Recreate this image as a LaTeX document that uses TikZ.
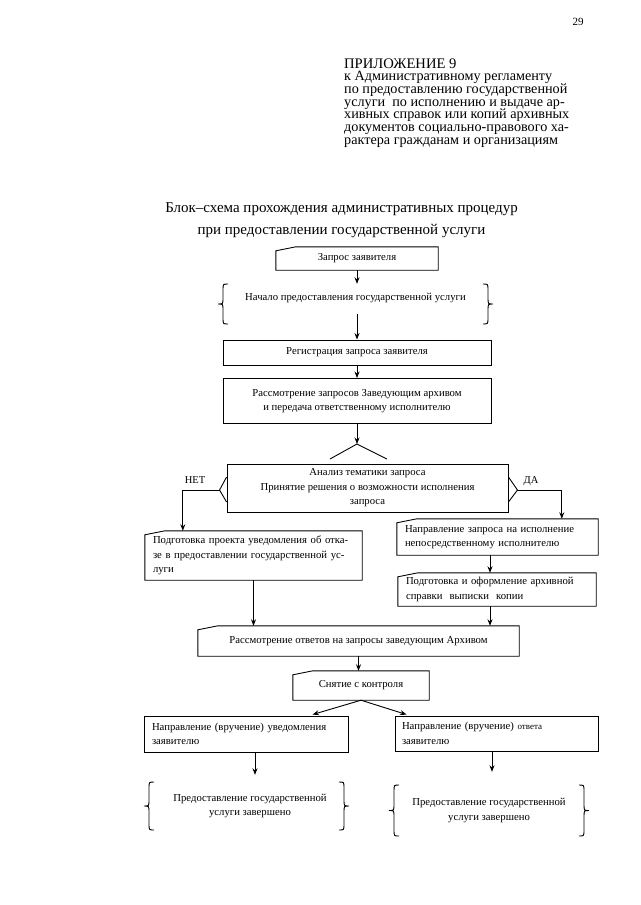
\documentclass[tikz,border=0pt]{standalone}
\usepackage{fontspec}
\setmainfont{Liberation Serif}
\usetikzlibrary{arrows.meta,calc}
\tikzset{
  ln/.style={line width=0.9pt, black},
  arr/.style={ln, -{Stealth[length=6.5pt,width=5pt]}},
  bx/.style={font=\fontsize{10.7}{14.5}\selectfont, inner xsep=8pt, inner ysep=1pt, align=center},
  plainbox/.style={bx, draw, ln},
  cardbox/.style={bx},
  lefttext/.style={align=left, text width=#1},
  apx/.style={anchor=base west, inner sep=0pt, font=\fontsize{14.2}{15}\selectfont},
  ttl/.style={anchor=base, inner sep=0pt, font=\fontsize{15}{18}\selectfont},
  lbl/.style={font=\fontsize{10.5}{12}\selectfont, inner sep=0pt},
  grp/.style={bx},
}
\newcommand{\cardout}[1]{\draw[ln] ($(#1.north west)+(0,4)$) -- ($(#1.north west)+(20,0)$) -- (#1.north east) -- (#1.south east) -- (#1.south west) -- cycle;}
\newcommand{\BrL}[3]{\pgfmathsetmacro{\brm}{(#2+#3)/2}\draw[ln] (#1+6,#2) .. controls (#1+1,#2) .. (#1+1,#2+6) -- (#1+1,\brm-6) .. controls (#1+1,\brm) .. (#1-4,\brm) .. controls (#1+1,\brm) .. (#1+1,\brm+6) -- (#1+1,#3-6) .. controls (#1+1,#3) .. (#1+6,#3);}
\newcommand{\BrR}[3]{\pgfmathsetmacro{\brm}{(#2+#3)/2}\draw[ln] (#1-6,#2) .. controls (#1-1,#2) .. (#1-1,#2+6) -- (#1-1,\brm-6) .. controls (#1-1,\brm) .. (#1+4,\brm) .. controls (#1-1,\brm) .. (#1-1,\brm+6) -- (#1-1,#3-6) .. controls (#1-1,#3) .. (#1-6,#3);}
\begin{document}
\begin{tikzpicture}[x=1pt,y=-1pt]
\useasboundingbox (0,0) rectangle (640,905);
\fill[white] (0,0) rectangle (640,905);

\node[font=\fontsize{11}{13}\selectfont] (pg) at (578,22) {29};

\node[apx, font=\fontsize{14.6}{16}\selectfont] (a1) at (344,68) {ПРИЛОЖЕНИЕ 9};
\node[apx] (a2) at (344,80.7) {к Административному регламенту};
\node[apx] (a3) at (344,93.4) {по предоставлению государственной};
\node[apx] (a4) at (344,106) {услуги\ \ по исполнению и выдаче ар-};
\node[apx] (a5) at (344,118.7) {хивных справок или копий архивных};
\node[apx] (a6) at (344,131.4) {документов социально-правового ха-};
\node[apx] (a7) at (344,144) {рактера гражданам и организациям};

\node[ttl] (t1) at (341.5,212) {Блок–схема прохождения административных процедур};
\node[ttl] (t2) at (341.5,234) {при предоставлении государственной услуги};

\node[cardbox, minimum width=162, minimum height=23] (zap) at (357,258.5) {Запрос заявителя};
\cardout{zap}

\node[grp, minimum width=267, minimum height=40, text height=8pt, text depth=15pt, inner ysep=0pt] (nach) at (355.5,304) {Начало предоставления государственной услуги};
\BrL{222}{284}{324}
\BrR{489}{284}{324}
\coordinate (nachout) at (357,314);

\node[plainbox, minimum width=268, minimum height=25] (reg) at (357,352.5) {Регистрация запроса заявителя};
\node[plainbox, minimum width=268, minimum height=45] (ras) at (357,401) {Рассмотрение запросов Заведующим архивом\\и передача ответственному исполнителю};

\coordinate (roof) at (357,444);
\coordinate (roofL) at (330,459);
\coordinate (roofR) at (387,459);

\node[plainbox, minimum width=281, minimum height=48] (an) at (367.5,488) {Анализ тематики запроса\\Принятие решения о возможности исполнения\\запроса};
\draw[ln] ($(an.west)+(0,-11)$) -- ($(an.west)+(-7,2)$) coordinate (netc) -- ($(an.west)+(0,14)$);
\draw[ln] ($(an.east)+(0,-11)$) -- ($(an.east)+(9,2)$) coordinate (dac) -- ($(an.east)+(0,14)$);
\node[lbl] (net) at (195,480) {НЕТ};
\node[lbl] (da) at (531,481) {ДА};

\node[cardbox, lefttext=201, minimum height=49] (podg) at (253.5,555.5) {Подготовка проекта уведомления об отка-\\зе в предоставлении государственной ус-\\луги};
\cardout{podg}
\node[cardbox, lefttext=185, minimum height=36] (napr) at (497.5,537) {Направление запроса на исполнение\\непосредственному исполнителю};
\cardout{napr}
\node[cardbox, lefttext=182, minimum height=33] (oform) at (497,589.5) {Подготовка и оформление архивной\\справки\ \ выписки\ \ копии};
\cardout{oform}
\node[cardbox, minimum width=321, minimum height=30] (rotv) at (358.5,641) {Рассмотрение ответов на запросы заведующим Архивом};
\cardout{rotv}
\node[cardbox, minimum width=136, minimum height=29] (sn) at (361,685.5) {Снятие с контроля};
\cardout{sn}

\node[plainbox, lefttext=188, minimum height=36] (nu) at (246,734) {Направление (вручение) уведомления\\заявителю};
\node[plainbox, lefttext=189, inner xsep=7pt, minimum height=35] (no) at (496.5,733.5) {Направление (вручение) {\fontsize{9}{14.5}\selectfont ответа}\\заявителю};

\node[grp, minimum width=197, minimum height=48] (zl) at (250,806) {Предоставление государственной\\услуги завершено};
\BrL{148}{782}{830}
\BrR{345}{782}{830}
\node[grp, minimum width=192, minimum height=51] (zr) at (489,810.5) {Предоставление государственной\\услуги завершено};
\BrL{393}{785}{836}
\BrR{585}{785}{836}

\draw[arr] (zap.south) -- (zap.south |- nach.north);
\draw[arr] (nachout) -- (nachout |- reg.north);
\draw[arr] (reg.south) -- (ras.north);
\draw[arr] (ras.south) -- (roof);
\draw[ln] (roofL) -- (roof) -- (roofR);
\draw[arr] (netc) -| ($(podg.north west)+(38,0)$);
\draw[arr] (dac) -| ($(napr.north west)+(165,0)$);
\coordinate (axR) at (490,0);
\draw[arr] (napr.south -| axR) -- (oform.north -| axR);
\draw[arr] (oform.south -| axR) -- (rotv.north -| axR);
\draw[arr] (podg.south) -- (podg.south |- rotv.north);
\draw[arr] (rotv.south) -- (rotv.south |- sn.north);
\draw[arr] (sn.south) -- ($(nu.north west)+(169,-1)$);
\draw[arr] (sn.south) -- ($(no.north west)+(12,-1)$);
\coordinate (axL) at (255,0);
\coordinate (axR2) at (492,0);
\draw[arr] (nu.south -| axL) -- ($(zl.north -| axL)+(0,-7)$);
\draw[arr] (no.south -| axR2) -- ($(zr.north -| axR2)+(0,-13)$);
\end{tikzpicture}
\end{document}
